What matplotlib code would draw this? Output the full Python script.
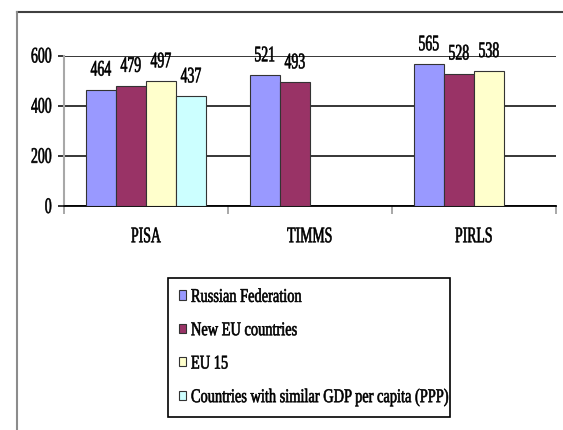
import numpy as np
import matplotlib
matplotlib.use("Agg")
import matplotlib.pyplot as plt
from matplotlib.patheffects import AbstractPathEffect
from matplotlib.transforms import Affine2D
from matplotlib.lines import Line2D
from matplotlib.patches import Patch

# ---- data -------------------------------------------------------------
categories = ["PISA", "TIMMS", "PIRLS"]
series_names = [
    "Russian Federation",
    "New EU countries",
    "EU 15",
    "Countries with similar GDP per capita (PPP)",
]
russia = [464, 521, 565]
new_eu = [479, 493, 528]
eu15 = [497, None, 538]
similar_gdp = [437, None, None]
y_ticks = [0, 200, 400, 600]

series_values = [russia, new_eu, eu15, similar_gdp]
series_colors = ["#9999FF", "#993366", "#FFFFCC", "#CCFFFF"]

FONT = "Liberation Serif"
FS = 16          # axis and value labels
FS_LEG = 14      # legend entries


class Narrow(AbstractPathEffect):
    """Horizontally squeeze glyph outlines around an anchor (condensed face)."""

    def __init__(self, sx=0.7, anchor="center", stroke=0.45):
        super().__init__()
        self._sx = sx
        self._anchor = anchor
        self._stroke = stroke

    def draw_path(self, renderer, gc, tpath, affine, rgbFace=None):
        v = tpath.vertices
        if len(v) == 0:
            return
        xmin, xmax = v[:, 0].min(), v[:, 0].max()
        if self._anchor == "left":
            x0 = xmin
        elif self._anchor == "right":
            x0 = xmax
        else:
            x0 = 0.5 * (xmin + xmax)
        squeeze = Affine2D().translate(-x0, 0).scale(self._sx, 1).translate(x0, 0)
        gc0 = renderer.new_gc()
        gc0.copy_properties(gc)
        gc0.set_linewidth(self._stroke)
        if rgbFace is not None:
            gc0.set_foreground(rgbFace)
        renderer.draw_path(gc0, tpath, squeeze + affine, rgbFace)
        gc0.restore()


SX = 0.62

W, H = 563, 430
fig = plt.figure(figsize=(W / 100, H / 100), dpi=100)
fig.patch.set_facecolor("white")

# plot area in pixel terms
px_left, px_right = 64, 556
px_zero, px_top = 206, 55.5
ax = fig.add_axes([px_left / W, (H - px_zero) / H,
                   (px_right - px_left) / W, (px_zero - px_top) / H])

n = len(series_values)
bar_w = 0.183
x = np.arange(len(categories))
for i, (vals, color, name) in enumerate(zip(series_values, series_colors, series_names)):
    idx = [k for k, v in enumerate(vals) if v is not None]
    heights = [vals[k] for k in idx]
    pos = x[idx] + (i - (n - 1) / 2) * bar_w
    bars = ax.bar(pos, heights, width=bar_w, color=color, edgecolor="#333333",
                  linewidth=0.8, label=name, zorder=3)
    labels = ax.bar_label(bars, padding=6.5, fontsize=FS, family=FONT, zorder=4)
    for t in labels:
        t.set_path_effects([Narrow(SX, "center")])
        t.set_clip_on(False)

ax.set_xlim(-0.5, len(categories) - 0.5)
ax.set_ylim(0, 600)
ax.set_yticks(y_ticks)
ax.set_yticklabels([str(v) for v in y_ticks])
ax.yaxis.grid(True, color="black", linewidth=1.1, zorder=0)
ax.set_axisbelow(True)

ax.set_xticks(x)
ax.set_xticklabels(categories)
ax.set_xticks(np.arange(-0.5, len(categories)), minor=True)
ax.tick_params(axis="x", which="major", length=0, pad=16)
ax.tick_params(axis="x", which="minor", length=5.8, width=1.2, color="#999999")
ax.tick_params(axis="y", length=4.3, width=1.1, color="black", pad=4.3)

for lab in ax.get_xticklabels() + ax.get_yticklabels():
    lab.set_fontfamily(FONT)
    lab.set_fontsize(FS)
for lab in ax.get_xticklabels():
    lab.set_path_effects([Narrow(SX, "center")])
for lab in ax.get_yticklabels():
    lab.set_path_effects([Narrow(SX, "right")])

for side in ("top", "right"):
    ax.spines[side].set_visible(False)
ax.spines["left"].set_color("#A8A8A8")
ax.spines["left"].set_linewidth(1.5)
ax.spines["bottom"].set_color("black")
ax.spines["bottom"].set_linewidth(1.3)
ax.patch.set_alpha(0)

# legend box with fixed extent
leg_left, leg_right, leg_top = 168, 450, 278
handles = [Patch(facecolor=c, edgecolor="#333333", linewidth=0.8) for c in series_colors]
leg = fig.legend(handles, series_names,
                 loc="upper left",
                 bbox_to_anchor=(leg_left / W, 1 - leg_top / H, (leg_right - leg_left) / W, 0),
                 bbox_transform=fig.transFigure,
                 mode="expand", borderaxespad=0,
                 prop={"family": FONT, "size": FS_LEG},
                 handlelength=0.36, handleheight=0.36, handletextpad=0.26,
                 borderpad=0.56, labelspacing=0.84,
                 fancybox=False, framealpha=1, edgecolor="black")
leg.get_frame().set_linewidth(1.2)
for t in leg.get_texts():
    t.set_path_effects([Narrow(0.74, "left")])

# outer frame of the chart area
fr_left, fr_top = 16.5 / W, 1 - 11.7 / H
fig.add_artist(Line2D([fr_left, 1.0], [fr_top, fr_top], transform=fig.transFigure,
                      color="#404040", linewidth=1.5))
fig.add_artist(Line2D([fr_left, fr_left], [0, fr_top], transform=fig.transFigure,
                      color="#8C8C8C", linewidth=1.5))

fig.savefig("out.png", dpi=100)
